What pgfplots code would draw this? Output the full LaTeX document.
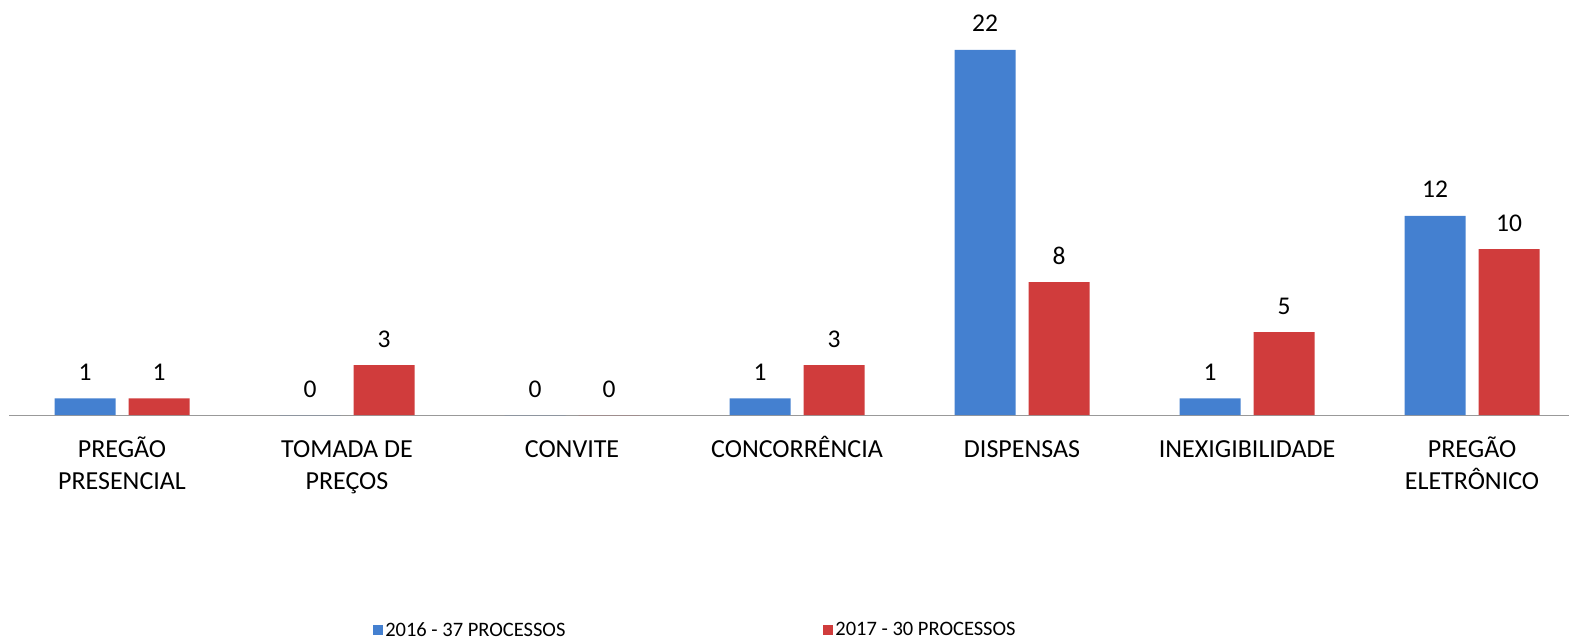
\documentclass[border=0pt]{standalone}
\usepackage{pgfplots}
\pgfplotsset{compat=1.18}
\usepackage{fontspec}
\setmainfont{Carlito}
\definecolor{cblue}{RGB}{68,128,208}
\definecolor{cred}{RGB}{208,60,60}
\begin{document}
\begin{tikzpicture}
\useasboundingbox (0,0) rectangle (1569pt,643pt);
\begin{axis}[
  at={(122pt,228pt)}, anchor=origin,
  scale only axis, width=1559.5pt, height=398.4pt,
  xmin=-0.5, xmax=6.431, ymin=0, ymax=24,
  hide y axis,
  axis x line*=bottom,
  x axis line style={-, draw=gray!80, line width=0.9pt},
  xtick={0,...,6}, major tick length=0pt,
  xticklabels={{\vphantom{ÊÃ}PREGÃO\\PRESENCIAL},{\vphantom{ÊÃ}TOMADA DE\\PREÇOS},{\vphantom{ÊÃ}CONVITE},{\vphantom{ÊÃ}CONCORRÊNCIA},{\vphantom{ÊÃ}DISPENSAS},{\vphantom{ÊÃ}INEXIGIBILIDADE},{\vphantom{ÊÃ}PREGÃO\\ELETRÔNICO}},
  xticklabel style={align=center, font=\fontsize{26}{32}\selectfont, anchor=north, yshift=-18pt},
  ybar=13pt, bar width=61pt,
  /pgf/number format/assume math mode=true,
  nodes near coords,
  nodes near coords style={font=\fontsize{25.5}{30}\selectfont, anchor=base, yshift=18pt},
  legend columns=2,
  legend cell align=left,
  legend style={draw=none, fill=none, font=\fontsize{20.5}{24}\selectfont, at={(rel axis cs:0.2312,-0.5397)}, anchor=west,
    /tikz/every even column/.append style={column sep=256pt}},
  legend image code/.code={\fill[#1] (0pt,-5pt) rectangle (10pt,5pt);},
]
\addplot[fill=cblue, draw=none] coordinates {(0,1) (1,0) (2,0) (3,1) (4,22) (5,1) (6,12)};
\addplot[fill=cred, draw=none] coordinates {(0,1) (1,3) (2,0) (3,3) (4,8) (5,5) (6,10)};
\legend{2016 - 37 PROCESSOS, 2017 - 30 PROCESSOS}
\end{axis}
\end{tikzpicture}
\end{document}
